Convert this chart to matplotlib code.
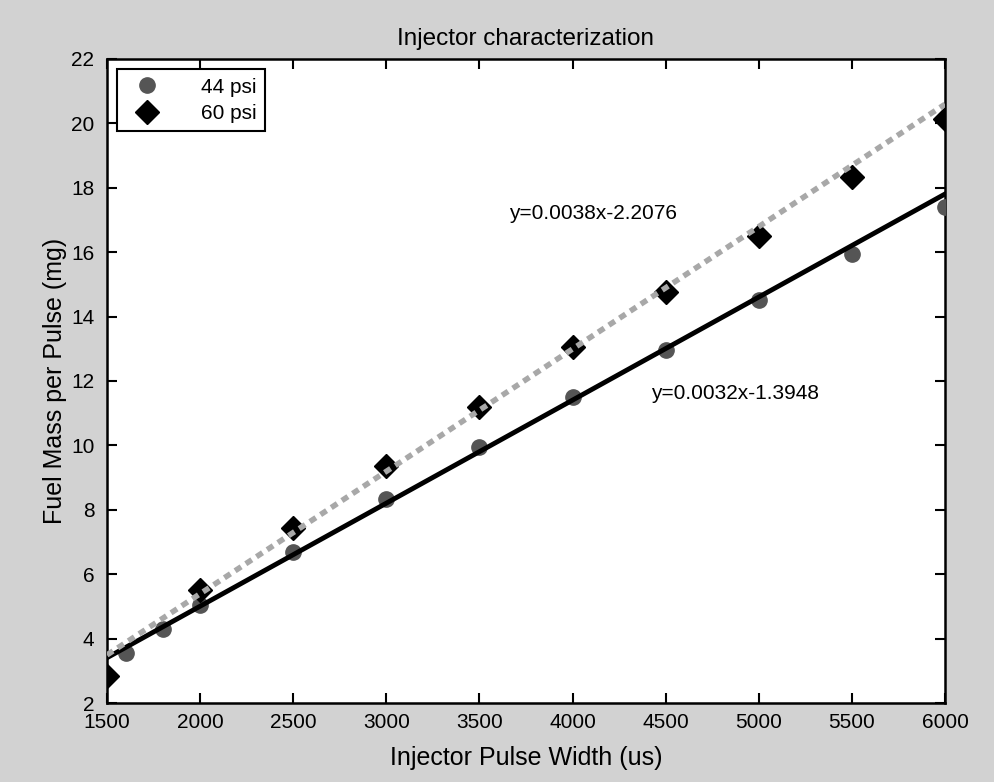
import numpy as np
import matplotlib.pyplot as plt

plt.rcParams['font.family'] = ['Liberation Sans', 'DejaVu Sans']

# measured fuel mass per pulse (mg) against pulse width (us)
pw_44 = [1600, 1800, 2000, 2500, 3000, 3500, 4000, 4500, 5000, 5500, 6000]
mass_44 = [3.55, 4.3, 5.05, 6.7, 8.35, 9.95, 11.5, 12.95, 14.5, 15.95, 17.4]

pw_60 = [1500, 2000, 2500, 3000, 3500, 4000, 4500, 5000, 5500, 6000]
mass_60 = [2.85, 5.5, 7.45, 9.35, 11.2, 13.05, 14.75, 16.5, 18.35, 20.15]

# linear fits (slope, intercept)
fit_44 = (0.0032, -1.3948)
fit_60 = (0.0038, -2.2076)

fig = plt.figure(figsize=(9.95, 7.82), dpi=100, facecolor='#d2d2d2')
ax = fig.add_axes([0.1075, 0.101, 0.8422, 0.8236])
ax.set_facecolor('white')

xf = np.array([1500, 6000])

ax.plot(pw_44, mass_44, 'o', color='#555555', markersize=11, label='44 psi', zorder=3)
ax.plot(pw_60, mass_60, 'D', color='black', markersize=12.5, label='60 psi', zorder=3)
ax.plot(xf, fit_44[0]*xf + fit_44[1], '-', color='black', linewidth=3.5, zorder=4)
ax.plot(xf, fit_60[0]*xf + fit_60[1], linestyle=(0, (1.3, 1.0)), color='#a8a8a8',
        linewidth=4, zorder=4)

ax.text(3660, 17.2, 'y=0.0038x-2.2076', fontsize=15, va='center')
ax.text(4420, 11.6, 'y=0.0032x-1.3948', fontsize=15, va='center')

ax.set_xlim(1500, 6000)
ax.set_ylim(2, 22)
ax.set_xticks(range(1500, 6001, 500))
ax.set_yticks(range(2, 23, 2))
ax.tick_params(direction='in', length=7, width=1.5, labelsize=15,
               top=True, right=True)
ax.tick_params(axis='x', pad=7)
ax.tick_params(axis='y', pad=9)
for s in ax.spines.values():
    s.set_linewidth(1.8)

ax.set_title('Injector characterization', fontsize=17.5, pad=10)
ax.set_xlabel('Injector Pulse Width (us)', fontsize=18, labelpad=10)
ax.set_ylabel('Fuel Mass per Pulse (mg)', fontsize=18, labelpad=3)

leg = ax.legend(loc='upper left', fontsize=15, fancybox=False, edgecolor='black',
                framealpha=1, borderpad=0.4, labelspacing=0.35,
                handletextpad=1.6, borderaxespad=0.5)
leg.get_frame().set_linewidth(1.5)

fig.savefig('out.png', dpi=100, facecolor=fig.get_facecolor())
